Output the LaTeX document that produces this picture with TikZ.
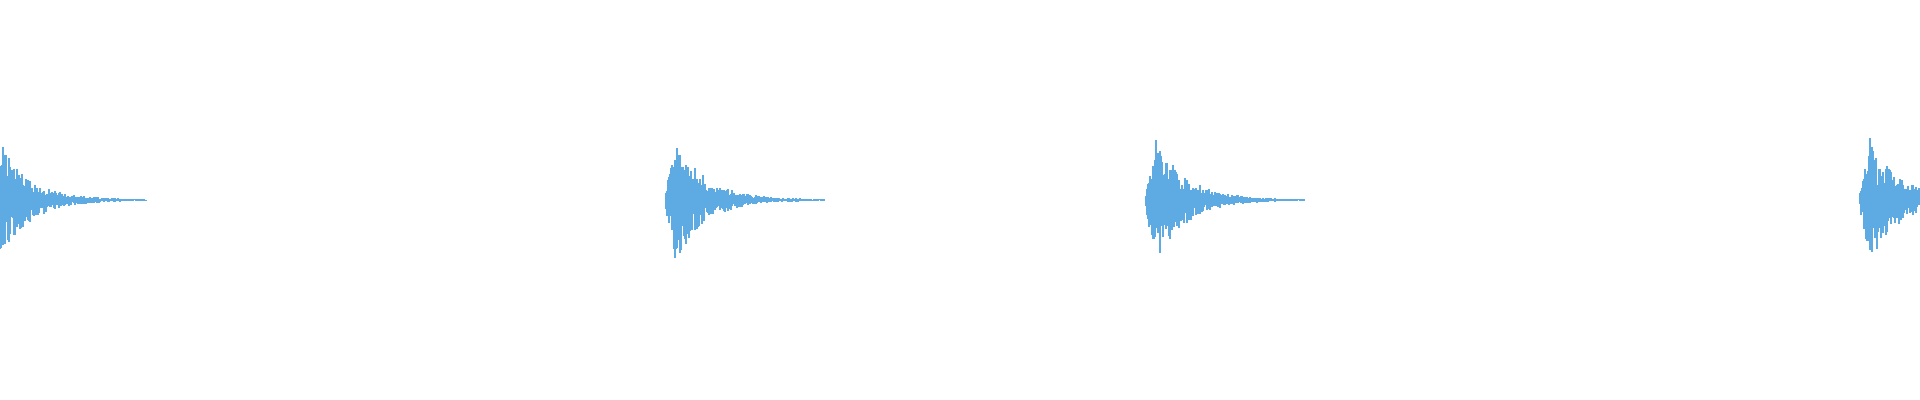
\documentclass[tikz,border=0pt]{standalone}
\definecolor{wave}{RGB}{93,171,226}
\begin{document}
\begin{tikzpicture}[x=0.01cm,y=-0.01cm,wv/.style={draw=wave,line width=0.3pt}]
\useasboundingbox (0,0) rectangle (1920,400);
\clip (0,0) rectangle (1920,400);
\pgfmathsetseed{7}
\foreach \s in {-12,666,1146,1860} {
  \foreach \i in {0,...,158} {
    \pgfmathsetmacro\env{(\i<10 ? 10+5.5*\i : 62*exp(-(\i-10)/30)) + 0.6}
    \pgfmathsetmacro\a{\env*(0.3+0.7*rnd)}
    \pgfmathsetmacro\b{\env*(0.3+0.7*rnd)}
    \path[wv] (\s+\i,200-\a) -- (\s+\i,200+\b);
  }
}
\end{tikzpicture}
\end{document}
